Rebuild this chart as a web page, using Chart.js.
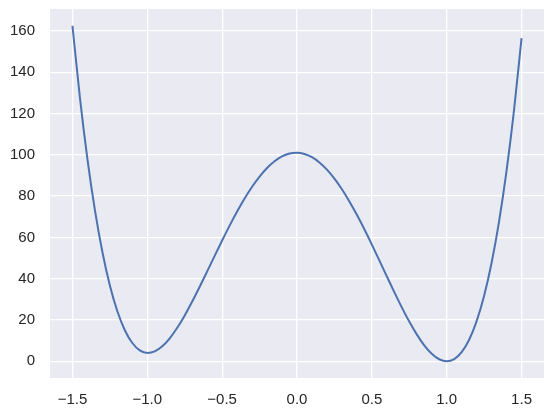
<!DOCTYPE html>
<html>
<head>
<meta charset="utf-8">
<script src="https://cdn.jsdelivr.net/npm/chart.js@4"></script>
<style>
  html, body { margin: 0; padding: 0; background: #ffffff; }
  #wrap { width: 554px; height: 416px; }
</style>
</head>
<body>
<div id="wrap"><canvas id="myChart" width="554" height="416"></canvas></div>
<script>
// values
var xValues = [-1.50, -1.45, -1.40, -1.35, -1.30, -1.25, -1.20, -1.15, -1.10, -1.05,
  -1.00, -0.95, -0.90, -0.85, -0.80, -0.75, -0.70, -0.65, -0.60, -0.55,
  -0.50, -0.45, -0.40, -0.35, -0.30, -0.25, -0.20, -0.15, -0.10, -0.05,
  0.00, 0.05, 0.10, 0.15, 0.20, 0.25, 0.30, 0.35, 0.40, 0.45,
  0.50, 0.55, 0.60, 0.65, 0.70, 0.75, 0.80, 0.85, 0.90, 0.95,
  1.00, 1.05, 1.10, 1.15, 1.20, 1.25, 1.30, 1.35, 1.40, 1.45, 1.50];
var yValues = [162.50, 127.55, 97.92, 73.17, 52.90, 36.70, 24.20, 15.02, 8.82, 5.25,
  4.00, 4.75, 7.22, 11.12, 16.20, 22.20, 28.90, 36.07, 43.52, 51.05,
  58.50, 65.70, 72.52, 78.82, 84.50, 89.45, 93.60, 96.87, 99.22, 100.60,
  101.00, 100.40, 98.82, 96.27, 92.80, 88.45, 83.30, 77.42, 70.92, 63.90,
  56.50, 48.85, 41.12, 33.47, 26.10, 19.20, 13.00, 7.72, 3.62, 0.95,
  0.00, 1.05, 4.42, 10.42, 19.40, 31.70, 47.70, 67.77, 92.32, 121.75, 156.50];
var xTicks = [-1.5, -1.0, -0.5, 0.0, 0.5, 1.0, 1.5];
var yTicks = [0, 20, 40, 60, 80, 100, 120, 140, 160];

var points = xValues.map(function (x, i) { return { x: x, y: yValues[i] }; });

function fmt(v) {
  var s = v.toFixed(1);
  return s.replace("-", "\u2212");
}

// grey panel behind the plot
var panelBg = {
  id: "panelBg",
  beforeDraw: function (chart) {
    var a = chart.chartArea;
    var c = chart.ctx;
    c.save();
    c.fillStyle = "#eaeaf2";
    c.fillRect(a.left, a.top, a.right - a.left, a.bottom - a.top);
    c.restore();
  },
};

var ctx = document.getElementById("myChart");
var myChart = new Chart(ctx, {
  type: "scatter",
  data: {
    datasets: [
      {
        data: points,
        showLine: true,
        borderColor: "#4c72b0",
        borderWidth: 2,
        pointRadius: 0,
        cubicInterpolationMode: "monotone",
      },
    ],
  },
  plugins: [panelBg],
  options: {
    responsive: false,
    animation: false,
    layout: { padding: { top: 9, right: 10, left: 0, bottom: 0 } },
    plugins: {
      legend: { display: false },
      tooltip: { enabled: false },
    },
    scales: {
      x: {
        type: "linear",
        min: -1.65,
        max: 1.65,
        afterBuildTicks: function (axis) {
          axis.ticks = xTicks.map(function (v) { return { value: v }; });
        },
        afterFit: function (axis) {
          axis.height = 38;
          axis.paddingLeft = 0;
          axis.paddingRight = 0;
        },
        grid: {
          color: "#ffffff",
          lineWidth: 1.3,
          drawTicks: false,
        },
        border: { display: false },
        ticks: {
          color: "#262626",
          padding: 13,
          maxRotation: 0,
          font: { family: "Liberation Sans", size: 15 },
          callback: function (v) { return fmt(v); },
        },
      },
      y: {
        type: "linear",
        min: -8.125,
        max: 170.625,
        afterBuildTicks: function (axis) {
          axis.ticks = yTicks.map(function (v) { return { value: v }; });
        },
        afterFit: function (axis) {
          axis.width = 50;
          axis.paddingTop = 0;
          axis.paddingBottom = 0;
        },
        grid: {
          color: "#ffffff",
          lineWidth: 1.3,
          drawTicks: false,
        },
        border: { display: false },
        ticks: {
          color: "#262626",
          padding: 15,
          font: { family: "Liberation Sans", size: 15 },
          callback: function (v) { return String(v); },
        },
      },
    },
  },
});
</script>
</body>
</html>
